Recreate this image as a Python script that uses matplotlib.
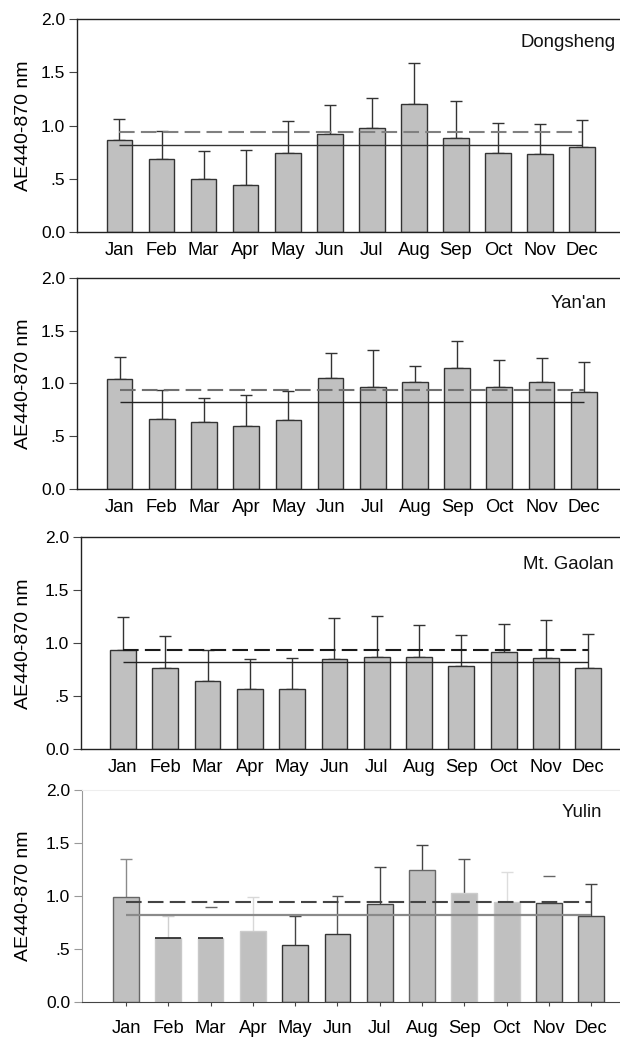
import matplotlib
matplotlib.use("Agg")
import matplotlib.pyplot as plt
import numpy as np

plt.rcParams['font.family'] = ['Liberation Sans', 'DejaVu Sans']

months = ["Jan", "Feb", "Mar", "Apr", "May", "Jun",
          "Jul", "Aug", "Sep", "Oct", "Nov", "Dec"]

stations = ["Dongsheng", "Yan'an", "Mt. Gaolan", "Yulin"]

# Monthly mean Angstrom exponent (440-870 nm)
ae_dongsheng = [0.86, 0.69, 0.50, 0.44, 0.74, 0.92, 0.98, 1.20, 0.88, 0.74, 0.73, 0.80]
ae_yanan     = [1.04, 0.66, 0.63, 0.60, 0.65, 1.05, 0.97, 1.01, 1.15, 0.97, 1.01, 0.92]
ae_gaolan    = [0.94, 0.77, 0.64, 0.57, 0.57, 0.85, 0.87, 0.87, 0.79, 0.92, 0.86, 0.77]
ae_yulin     = [0.99, 0.60, 0.60, 0.67, 0.54, 0.64, 0.92, 1.25, 1.03, 0.94, 0.93, 0.81]

# Upper end of the standard-deviation bars
top_dongsheng = [1.06, 0.95, 0.76, 0.77, 1.04, 1.19, 1.26, 1.59, 1.23, 1.02, 1.01, 1.05]
top_yanan     = [1.25, 0.94, 0.86, 0.89, 0.93, 1.29, 1.32, 1.16, 1.40, 1.22, 1.24, 1.20]
top_gaolan    = [1.25, 1.07, 0.94, 0.85, 0.86, 1.24, 1.26, 1.17, 1.08, 1.18, 1.22, 1.09]
top_yulin     = [1.35, 0.81, 0.90, 0.99, 0.81, 1.00, 1.27, 1.48, 1.35, 1.23, 1.19, 1.11]

# Reference levels drawn across each panel
ref_dashed = 0.94
ref_solid = 0.82

yticks = [0.0, 0.5, 1.0, 1.5, 2.0]
ytick_labels = ["0.0", ".5", "1.0", "1.5", "2.0"]

means = [ae_dongsheng, ae_yanan, ae_gaolan, ae_yulin]
tops = [top_dongsheng, top_yanan, top_gaolan, top_yulin]

W, H = 620, 1037
fig = plt.figure(figsize=(W / 100, H / 100), dpi=100)

# panel boxes in pixels: left, top, bottom, xlim
boxes = [
    (77, 19.0, 232.0, (-1.01, 11.90)),
    (77, 277.7, 489.0, (-1.01, 11.86)),
    (81, 537.3, 749.3, (-0.99, 11.75)),
    (82, 790.0, 1002.0, (-1.04, 11.68)),
]
label_pos = [(11.80, 1.78), (11.55, 1.76), (11.60, 1.74), (11.25, 1.79)]
dash_colors = ["#808080", "#707070", "#1a1a1a", "#444444"]
solid_colors = ["#333333", "#222222", "#222222", "#8a8a8a"]
solid_widths = [1.0, 1.0, 1.0, 1.6]

# Yulin panel: per-bar edge / error bar colours (faded print)
yulin_edge = ["#666666", "#c8c8c8", "#c8c8c8", "#cccccc", "#333333", "#333333",
              "#444444", "#666666", "#cccccc", "#cccccc", "#444444", "#444444"]
yulin_topline = [None, "#222222", "#222222", None, None, None,
                 None, None, None, None, None, None]
yulin_err = ["#8a8a8a", "#d0d0d0", None, "#d8d8d8", "#444444", "#555555",
             "#444444", "#444444", "#555555", "#dddddd", None, "#444444"]
yulin_cap = ["#8a8a8a", "#d0d0d0", "#666666", "#d8d8d8", "#444444", "#555555",
             "#444444", "#444444", "#555555", "#dddddd", "#666666", "#444444"]

x = np.arange(len(months))
bw = 0.61

for i, (left, top, bottom, xl) in enumerate(boxes):
    aw = W - left
    ax = fig.add_axes([left / W, 1 - bottom / H, aw / W, (bottom - top) / H])
    vals = np.array(means[i])
    errs = np.array(tops[i]) - vals
    if i < 3:
        ax.bar(x, vals, width=bw, color="#c0c0c0", edgecolor="#333333",
               linewidth=1.0, zorder=2)
        ax.errorbar(x, vals, yerr=[np.zeros_like(errs), errs], fmt="none",
                    ecolor="#333333", elinewidth=1.0, capsize=4.5, capthick=1.0,
                    zorder=1)
    else:
        ax.bar(x, vals, width=bw, color="#c0c0c0", edgecolor=yulin_edge,
               linewidth=1.0, zorder=2)
        for j in range(len(months)):
            if yulin_topline[j] is not None:
                ax.hlines(vals[j], x[j] - bw / 2, x[j] + bw / 2,
                          color=yulin_topline[j], linewidth=1.2, zorder=2.5)
            if yulin_err[j] is not None:
                ax.vlines(x[j], vals[j], tops[i][j], color=yulin_err[j],
                          linewidth=1.0, zorder=1)
            ax.hlines(tops[i][j], x[j] - 0.14, x[j] + 0.14, color=yulin_cap[j],
                      linewidth=1.0, zorder=1)

    ax.hlines(ref_dashed, 0, 11, colors=dash_colors[i], linestyles=(0, (7.5, 3)),
              linewidth=1.5, zorder=3)
    ax.hlines(ref_solid, 0, 11, colors=solid_colors[i], linewidth=solid_widths[i],
              zorder=3)

    ax.set_xlim(*xl)
    ax.set_ylim(0, 2.0)
    ax.set_yticks(yticks)
    ax.set_yticklabels(ytick_labels, fontsize=12.5)
    ax.set_xticks(x)
    ax.set_xticklabels(months, fontsize=13.2)
    ax.spines["right"].set_visible(False)
    ax.set_ylabel("AE440-870 nm", fontsize=14, va="bottom")
    # right edge of the rotated axis title sits near x = 32 px
    ax.yaxis.set_label_coords((32 - left) / aw, 0.5)
    ax.text(label_pos[i][0], label_pos[i][1], stations[i], ha="right",
            va="center", fontsize=13.4, color="#111111")

    if i < 3:
        for s in ["left", "top", "bottom"]:
            ax.spines[s].set_color("#222222")
            ax.spines[s].set_linewidth(1.0)
        ax.tick_params(axis="y", direction="out", length=5.5, width=0.8,
                       color="#444444", pad=3)
        ax.tick_params(axis="x", length=0, pad=7)
    else:
        ax.spines["top"].set_color("#eeeeee")
        ax.spines["left"].set_color("#999999")
        ax.spines["bottom"].set_color("#444444")
        ax.tick_params(axis="y", direction="out", length=5.5, width=0.8,
                       color="#999999", pad=3)
        ax.tick_params(axis="x", direction="out", length=3, width=0.8,
                       color="#444444", pad=10)

fig.savefig("out.png", dpi=100)
